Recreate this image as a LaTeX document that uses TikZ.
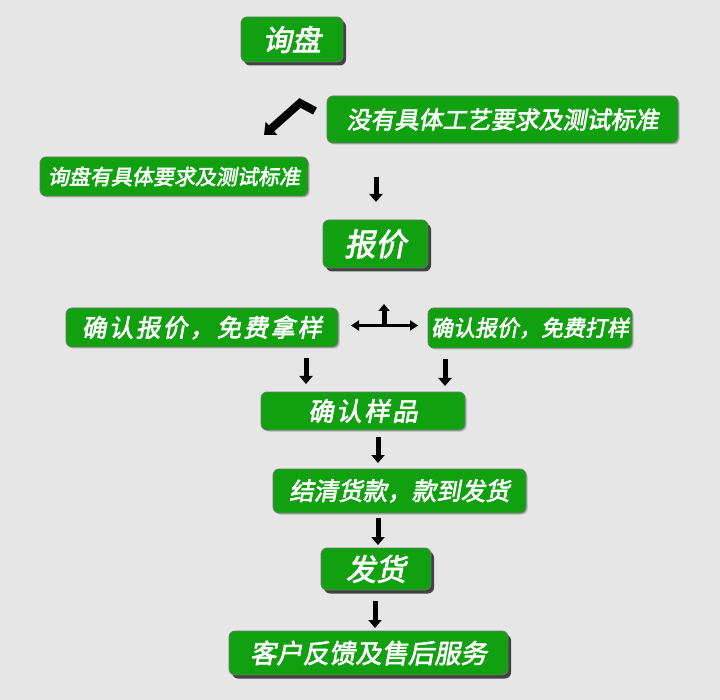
\documentclass[tikz,border=0pt]{standalone}
\usepackage{fontspec}
\newfontfamily\cjk[FakeSlant=0.18,FakeBold=2.6]{Noto Sans CJK SC}
\newfontfamily\cjksp[FakeSlant=0.18,FakeBold=2.6,LetterSpace=10]{Noto Sans CJK SC}
\usetikzlibrary{shadows,arrows.meta}
\definecolor{bg}{HTML}{E6E6E6}
\definecolor{boxgreen}{HTML}{10A010}
\definecolor{boxline}{HTML}{6E7A6E}
\tikzset{
  box/.style={draw=boxline, line width=0.8pt, fill=boxgreen, rounded corners=6pt,
    text=white, inner sep=0pt, anchor=center,
    drop shadow={shadow xshift=1.5pt, shadow yshift=-1.5pt, fill=black!45, opacity=0.6}},
  bigbox/.style={box, drop shadow={shadow xshift=3pt, shadow yshift=-3.5pt, fill=black!80, opacity=0.9}},
  downarr/.style={line width=5pt, -{Triangle[width=13pt,length=8pt]}, black},
  bentarr/.style={line width=8pt, -{Triangle[width=17pt,length=10pt]}, black, line join=miter},
  tarr/.style={line width=3.5pt, {Triangle[width=10pt,length=8pt]}-{Triangle[width=10pt,length=8pt]}, black},
  uparr/.style={line width=5pt, -{Triangle[width=11pt,length=7pt]}, black}
}
\begin{document}
\begin{tikzpicture}[x=1pt,y=-1pt]
\fill[bg] (0,0) rectangle (720,700);
\useasboundingbox (0,0) rectangle (720,700);

\node[bigbox, minimum width=102pt, minimum height=45pt] (xp) at (292,39.5) {\cjk\fontsize{29pt}{29pt}\selectfont 询盘};
\node[box, minimum width=351pt, minimum height=47pt] (mei) at (502.5,119.5) {\cjk\fontsize{24pt}{24pt}\selectfont 没有具体工艺要求及测试标准};
\node[box, minimum width=268pt, minimum height=39pt] (you) at (174,176.5) {\cjk\fontsize{21pt}{21pt}\selectfont 询盘有具体要求及测试标准};
\node[bigbox, minimum width=105pt, minimum height=48pt] (bj) at (375.5,244) {\cjk\fontsize{31pt}{31pt}\selectfont 报价};
\node[box, minimum width=272pt, minimum height=39pt] (ny) at (202,327.5) {\cjksp\fontsize{24.5pt}{24.5pt}\selectfont 确认报价，免费拿样};
\node[box, minimum width=204pt, minimum height=40pt] (dy) at (530,328) {\cjk\fontsize{22pt}{22pt}\selectfont 确认报价，免费打样};
\node[box, minimum width=204pt, minimum height=38pt] (yp) at (363,411) {\cjksp\fontsize{25.5pt}{25.5pt}\selectfont 确认样品};
\node[box, minimum width=253pt, minimum height=44pt] (jq) at (399.5,491) {\cjk\fontsize{24.5pt}{24.5pt}\selectfont 结清货款，款到发货};
\node[bigbox, minimum width=110pt, minimum height=42pt] (fh) at (376,569) {\cjk\fontsize{30pt}{30pt}\selectfont 发货};
\node[bigbox, minimum width=279pt, minimum height=44pt] (kh) at (368.5,653) {\cjk\fontsize{26.3pt}{26.3pt}\selectfont 客户反馈及售后服务};

% arrow coordinates
\coordinate (b1) at (315,111);
\coordinate (b2) at (300,103);
\coordinate (b3) at (264,135);
\coordinate (a1s) at (376,177); \coordinate (a1e) at (376,202);
\coordinate (a2s) at (306,358); \coordinate (a2e) at (306,384);
\coordinate (a3s) at (445,359); \coordinate (a3e) at (445,386);
\coordinate (a4s) at (378,437); \coordinate (a4e) at (378,463);
\coordinate (a5s) at (378,518); \coordinate (a5e) at (378,545);
\coordinate (a6s) at (375,601); \coordinate (a6e) at (375,628);
\coordinate (tl) at (351,325.5); \coordinate (tr) at (418,325.5);
\coordinate (tm) at (384,325.5); \coordinate (tu) at (384,304);

\draw[bentarr] (b1) -- (b2) -- (b3);
\draw[downarr] (a1s) -- (a1e);
\draw[downarr] (a2s) -- (a2e);
\draw[downarr] (a3s) -- (a3e);
\draw[downarr] (a4s) -- (a4e);
\draw[downarr] (a5s) -- (a5e);
\draw[downarr] (a6s) -- (a6e);
\draw[tarr] (tl) -- (tr);
\draw[uparr] (tm) -- (tu);
\end{tikzpicture}
\end{document}
